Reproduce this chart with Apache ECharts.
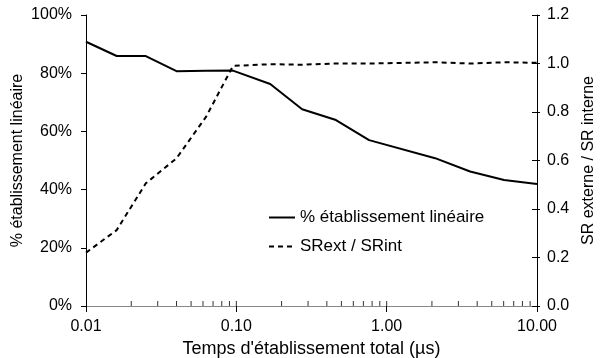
<!DOCTYPE html>
<html><head><meta charset="utf-8">
<script src="https://cdn.jsdelivr.net/npm/echarts@6/dist/echarts.min.js"></script>
<style>html,body{margin:0;padding:0;background:#fff}#c{width:600px;height:358px}</style>
</head><body><div id="c"></div>
<script>
const times = [0.01, 0.016, 0.025, 0.04, 0.063, 0.095, 0.168, 0.274, 0.46, 0.764, 2.1, 3.59, 6.04, 10];
const pctLinear = [90.8, 85.9, 85.9, 80.7, 80.8, 80.9, 76.3, 67.6, 63.9, 57.0, 50.8, 46.2, 43.3, 41.9];
const srRatio = [0.22, 0.313, 0.506, 0.609, 0.781, 0.99, 0.997, 0.995, 1.0, 1.0, 1.005, 1.0, 1.005, 1.003];
const innerTicks = [0.02,0.03,0.04,0.05,0.06,0.07,0.08,0.09,0.1,0.2,0.3,0.4,0.5,0.6,0.7,0.8,0.9,1,2,3,4,5,6,7,8,9];
const seriesNames = ['% établissement linéaire', 'SRext / SRint'];
const xName = "Temps d'établissement total (µs)";
const yLeftName = '% établissement linéaire';
const yRightName = 'SR externe / SR interne';

const F = 'Liberation Sans, Arial, sans-serif';
const chart = echarts.init(document.getElementById('c'), null, {renderer: 'canvas'});
chart.setOption({
  animation: false,
  textStyle: {fontFamily: F, color: '#000'},
  grid: {left: 86, right: 63, top: 15, bottom: 52, outerBoundsMode: 'none', containLabel: false},
  legend: {
    data: seriesNames, orient: 'vertical', left: 263, top: 204,
    itemWidth: 26, itemHeight: 14, itemGap: 12,
    itemStyle: {opacity: 0},
    textStyle: {fontFamily: F, fontSize: 17, color: '#000'}
  },
  xAxis: [{
    type: 'log', logBase: 10, min: 0.01, max: 10, position: 'bottom',
    axisLine: {lineStyle: {color: '#000', width: 1}},
    axisTick: {show: true, length: 6, lineStyle: {color: '#000'}},
    axisLabel: {formatter: v => v.toFixed(2), fontSize: 16, color: '#000', margin: 13, fontFamily: F},
    splitLine: {show: false}, minorTick: {show: false},
    name: xName, nameLocation: 'middle', nameGap: 27,
    nameTextStyle: {fontSize: 18, color: '#000', fontFamily: F}
  }, {
    type: 'log', logBase: 10, min: 0.01, max: 10, position: 'top',
    axisLine: {lineStyle: {color: '#888', width: 1}},
    axisTick: {show: false}, axisLabel: {show: false}, splitLine: {show: false}
  }],
  yAxis: [{
    type: 'value', min: 0, max: 100, interval: 20, position: 'left',
    axisLine: {show: true, lineStyle: {color: '#000'}},
    axisTick: {show: true, length: 5, lineStyle: {color: '#000'}},
    axisLabel: {formatter: v => v + '%', fontSize: 16, color: '#000', margin: 14, fontFamily: F},
    splitLine: {show: false},
    name: yLeftName, nameLocation: 'middle', nameGap: 60, nameRotate: 90, nameMoveOverlap: false,
    nameTextStyle: {fontSize: 16, color: '#000', fontFamily: F}
  }, {
    type: 'value', min: 0, max: 1.2, interval: 0.2, position: 'right',
    axisLine: {show: true, lineStyle: {color: '#000'}},
    axisTick: {show: true, length: 3, lineStyle: {color: '#000'}},
    axisLabel: {formatter: v => v.toFixed(1), fontSize: 16, color: '#000', margin: 10, fontFamily: F},
    splitLine: {show: false},
    name: yRightName, nameLocation: 'middle', nameGap: 37, nameRotate: 90,
    nameTextStyle: {fontSize: 16, color: '#000', fontFamily: F}
  }, {
    type: 'value', min: 0, max: 1.2, interval: 0.2, position: 'right',
    axisLine: {show: false}, axisLabel: {show: false}, splitLine: {show: false},
    axisTick: {show: true, inside: true, length: 5, lineStyle: {color: '#000'}}
  }],
  series: [{
    name: seriesNames[0], type: 'line', xAxisIndex: 0, yAxisIndex: 0,
    data: times.map((t, i) => [t, pctLinear[i]]),
    symbol: 'none', lineStyle: {color: '#000', width: 2}, itemStyle: {color: '#000'}
  }, {
    name: seriesNames[1], type: 'line', xAxisIndex: 0, yAxisIndex: 1,
    data: times.map((t, i) => [t, srRatio[i]]),
    symbol: 'none', lineStyle: {color: '#000', width: 2, type: [5, 4]}, itemStyle: {color: '#000'}
  }, {
    type: 'scatter', xAxisIndex: 0, yAxisIndex: 0, silent: true,
    data: innerTicks.map(v => [v, 0]),
    symbol: 'rect', symbolSize: [1, 5], symbolOffset: [0, -2.5],
    itemStyle: {color: '#000'}, clip: false
  }]
});
</script></body></html>
